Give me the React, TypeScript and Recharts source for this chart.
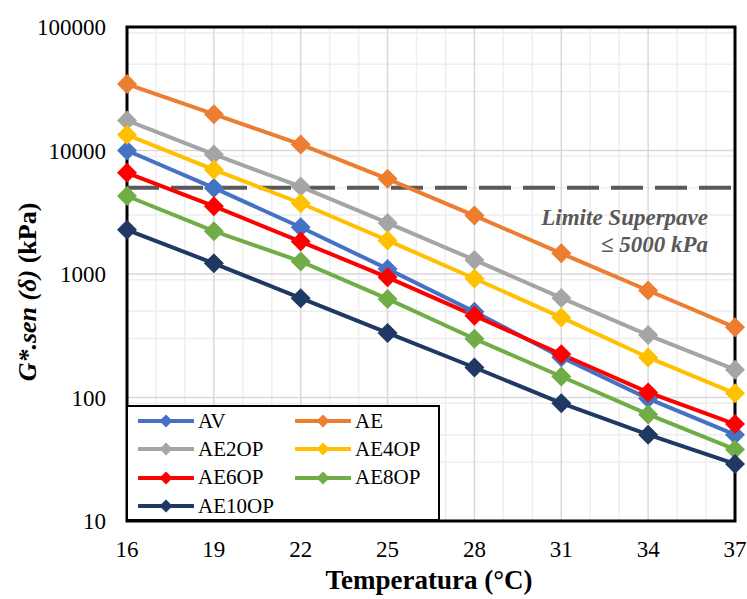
import React from 'react'
import {
  LineChart,
  Line,
  XAxis,
  YAxis,
  CartesianGrid,
  ReferenceLine,
  ReferenceArea,
} from 'recharts'

const temperatures = [16, 19, 22, 25, 28, 31, 34, 37]

const av = [10000, 4980, 2390, 1100, 495, 212, 98, 50]
const ae = [34500, 19700, 11200, 5900, 2970, 1470, 735, 370]
const ae2op = [17500, 9300, 5100, 2590, 1300, 640, 320, 168]
const ae4op = [13400, 7000, 3740, 1870, 920, 445, 211, 108]
const ae6op = [6600, 3540, 1830, 940, 460, 224, 110, 61]
const ae8op = [4280, 2220, 1265, 628, 299, 148, 73, 38]
const ae10op = [2280, 1220, 637, 333, 175, 90, 50, 29]

const superpaveLimit = 5000

const yTicks = [10, 100, 1000, 10000, 100000]

const SERIES = [
  { key: 'AV', values: av, color: '#4472C4' },
  { key: 'AE', values: ae, color: '#ED7D31' },
  { key: 'AE2OP', values: ae2op, color: '#A5A5A5' },
  { key: 'AE4OP', values: ae4op, color: '#FFC000' },
  { key: 'AE6OP', values: ae6op, color: '#FF0000' },
  { key: 'AE8OP', values: ae8op, color: '#70AD47' },
  { key: 'AE10OP', values: ae10op, color: '#1F3864' },
]

const data = temperatures.map((t, i) => {
  const row: Record<string, number> = { t }
  SERIES.forEach(s => {
    row[s.key] = s.values[i]
  })
  return row
})

// minor log grid: 2..9 within each decade, 1 °C steps on x
const minorY: number[] = []
for (let d = 10; d < 100000; d *= 10) {
  for (let m = 2; m <= 9; m++) minorY.push(m * d)
}
const minorX: number[] = []
for (let t = 17; t < 37; t++) if ((t - 16) % 3 !== 0) minorX.push(t)

const FONT = "'Liberation Serif', 'DejaVu Serif', serif"

const Diamond = (props: any) => {
  const { cx, cy, fill, r = 10 } = props
  if (cx == null || cy == null) return null
  return (
    <polygon
      points={`${cx},${cy - r} ${cx + r},${cy} ${cx},${cy + r} ${cx - r},${cy}`}
      fill={fill}
    />
  )
}

const YTitle = () => (
  <text
    transform="translate(27,292) rotate(-90)"
    textAnchor="middle"
    dominantBaseline="central"
    style={{ fontFamily: FONT, fontSize: 26, fontWeight: 'bold' }}
    fill="#000"
  >
    <tspan fontStyle="italic">G*.sen (δ)</tspan>
    <tspan> (kPa)</tspan>
  </text>
)

const XTitle = () => (
  <text
    x={429}
    y={589}
    textAnchor="middle"
    style={{ fontFamily: FONT, fontSize: 27, fontWeight: 'bold' }}
    fill="#000"
  >
    Temperatura (°C)
  </text>
)

function LegendBox() {
  return (
    <div
      style={{
        position: 'absolute',
        left: 126,
        top: 405,
        width: 314,
        height: 116,
        boxSizing: 'border-box',
        border: '2px solid #000',
        background: '#fff',
        paddingLeft: 10,
        display: 'grid',
        gridTemplateColumns: '157px 140px',
        gridAutoRows: '28.3px',
        fontFamily: FONT,
        fontSize: 21,
        color: '#000',
      }}
    >
      {SERIES.map(s => (
        <div key={s.key} style={{ display: 'flex', alignItems: 'center' }}>
          <svg width={56} height={16} style={{ marginRight: 4 }}>
            <line x1={1} y1={8} x2={55} y2={8} stroke={s.color} strokeWidth={4} strokeLinecap="round" />
            <polygon points="28,1.5 34.5,8 28,14.5 21.5,8" fill={s.color} />
          </svg>
          <span style={{ lineHeight: 1 }}>{s.key}</span>
        </div>
      ))}
    </div>
  )
}

export default function App() {
  return (
    <div
      style={{
        position: 'absolute',
        left: 0,
        top: 0,
        width: 747,
        height: 599,
        background: '#fff',
        fontFamily: FONT,
      }}
    >
      <LineChart
        width={747}
        height={599}
        data={data}
        margin={{ top: 27, right: 12, bottom: 48, left: 0 }}
        style={{ fontFamily: FONT }}
      >
        <CartesianGrid horizontalValues={minorY} verticalValues={minorX} stroke="#eeeeee" strokeWidth={1.5} />
        <CartesianGrid
          horizontalValues={[100, 1000, 10000]}
          verticalValues={[19, 22, 25, 28, 31, 34]}
          stroke="#d9d9d9"
          strokeWidth={1.5}
        />
        <XAxis
          type="number"
          dataKey="t"
          domain={[16, 37]}
          ticks={temperatures}
          height={30}
          axisLine={false}
          tickLine={false}
          tickSize={0}
          tickMargin={20}
          tick={{ fill: '#000', fontSize: 23, fontFamily: FONT }}
          label={<XTitle />}
        />
        <YAxis
          type="number"
          scale="log"
          domain={[10, 100000]}
          ticks={yTicks}
          allowDataOverflow
          width={127}
          axisLine={false}
          tickLine={false}
          tickSize={0}
          tickMargin={21}
          tick={{ fill: '#000', fontSize: 23, fontFamily: FONT }}
          label={<YTitle />}
        />
        <ReferenceArea
          x1={16}
          x2={37}
          y1={10}
          y2={100000}
          fill="none"
          stroke="#000"
          strokeWidth={3}
          ifOverflow="visible"
        />
        <ReferenceLine y={superpaveLimit} stroke="#595959" strokeWidth={4} strokeDasharray="32 12" />
        {SERIES.map(s => (
          <Line
            key={s.key}
            dataKey={s.key}
            stroke={s.color}
            strokeWidth={4}
            isAnimationActive={false}
            dot={(p: any) => <Diamond key={`${s.key}-${p.index}`} cx={p.cx} cy={p.cy} fill={s.color} />}
            activeDot={false}
          />
        ))}
      </LineChart>
      <div
        style={{
          position: 'absolute',
          right: 39,
          top: 204,
          textAlign: 'right',
          fontFamily: FONT,
          fontStyle: 'italic',
          fontWeight: 'bold',
          fontSize: 23,
          lineHeight: '27px',
          color: '#595959',
        }}
      >
        Limite Superpave
        <br />≤ 5000 kPa
      </div>
      <LegendBox />
    </div>
  )
}
